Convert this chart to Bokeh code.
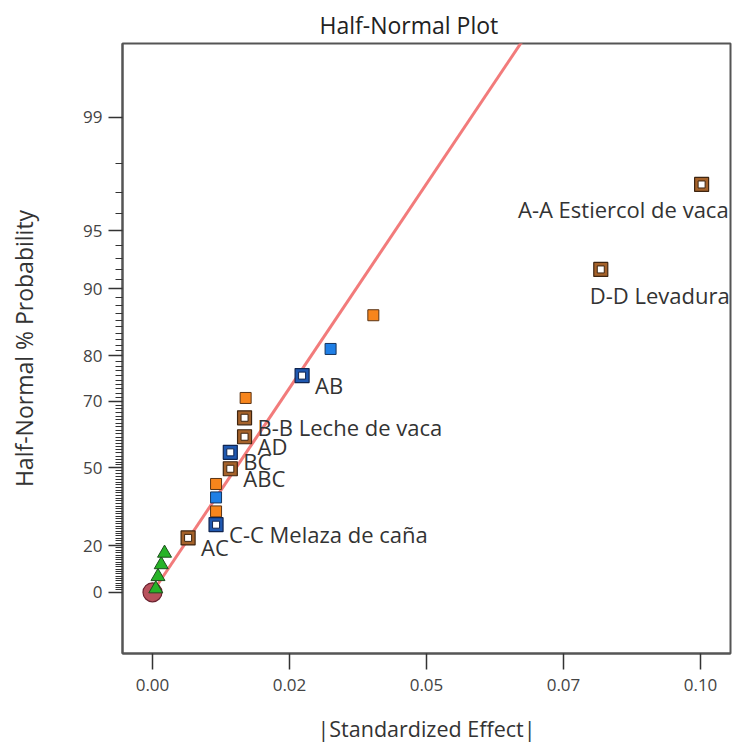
from statistics import NormalDist

from bokeh.core.properties import value
from bokeh.embed import file_html
from bokeh.models import ColumnDataSource, FixedTicker, Range1d
from bokeh.plotting import figure
from bokeh.resources import INLINE

# |Standardized effect| of every term, smallest first
effects = [0.0000, 0.0006, 0.0010, 0.0016, 0.0022,
           0.0065, 0.0116, 0.0116, 0.0116, 0.0116,
           0.0142, 0.0142, 0.0168, 0.0168, 0.0170,
           0.0273, 0.0325, 0.0403, 0.0818, 0.1002]
# half-normal probability (%) of each term
probs = [0.0, 1.5, 6.8, 11.9, 16.8,
         23.2, 28.6, 33.9, 39.3, 44.3,
         49.7, 55.2, 60.1, 65.6, 70.8,
         76.0, 81.3, 86.7, 92.0, 97.3]
# marker class: origin point, error estimate, positive or negative effect
kinds = ["origin", "error", "error", "error", "error",
         "pos", "neg", "pos", "neg", "pos",
         "pos", "neg", "pos", "pos", "pos",
         "neg", "neg", "pos", "pos", "pos"]
# terms chosen for the model
chosen = [False, False, False, False, False,
          True, True, False, False, False,
          True, True, True, True, False,
          True, False, False, True, True]
labels = ["", "", "", "", "",
          "AC", "C-C Melaza de caña", "", "", "",
          "ABC", "BC", "AD", "B-B Leche de vaca", "",
          "AB", "", "", "D-D Levadura", "A-A Estiercol de vaca"]

prob_ticks = [0, 20, 50, 70, 80, 90, 95, 99]
effect_ticks = [0.0, 0.025, 0.05, 0.075, 0.1]
effect_tick_labels = ["0.00", "0.02", "0.05", "0.07", "0.10"]

# reference line through the origin (half-normal z per unit |effect|)
fit_slope = 44.3
fit_effects = [0.0, 0.07]

ND = NormalDist()


def hn(pct):
    """Half-normal quantile used as the probability scale."""
    return ND.inv_cdf(0.5 + pct / 200.0)


z = [hn(v) for v in probs]

FONT = "Open Sans"
FRAME = "#555555"

p = figure(
    frame_width=608, frame_height=610,
    min_border_left=122, min_border_right=5,
    min_border_top=43, min_border_bottom=91,
    x_range=Range1d(-0.00547, 0.10547),
    y_range=Range1d(-0.332, 2.976),
    output_backend="svg", toolbar_location=None,
    title="Half-Normal Plot",
)
p.background_fill_color = "white"
p.border_fill_color = "white"
p.xgrid.visible = False
p.ygrid.visible = False
p.outline_line_color = FRAME
p.outline_line_width = 2

p.title.text_font = FONT
p.title.text_font_size = "23px"
p.title.text_font_style = "normal"
p.title.text_color = "#222222"
p.title.align = "left"
p.title.offset = 197
p.title.standoff = 5

# x axis
p.xaxis.ticker = FixedTicker(ticks=effect_ticks, minor_ticks=[])
p.xaxis.major_label_overrides = dict(zip(effect_ticks, effect_tick_labels))
p.xaxis.axis_label = "|Standardized Effect|"
p.xaxis.major_tick_out = 16
p.xaxis.major_tick_in = 0
p.xaxis.major_label_standoff = 9
p.xaxis.axis_label_standoff = 20

# y axis on the half-normal probability scale
p.yaxis.ticker = FixedTicker(
    ticks=[hn(v) for v in prob_ticks],
    minor_ticks=[hn(v) for v in range(1, 99) if v not in prob_ticks],
)
p.yaxis.major_label_overrides = {hn(v): str(v) for v in prob_ticks}
p.yaxis.axis_label = "Half-Normal % Probability"
p.yaxis.major_tick_out = 14
p.yaxis.major_tick_in = 0
p.yaxis.minor_tick_out = 7
p.yaxis.minor_tick_in = 0
p.yaxis.major_label_standoff = 6
p.yaxis.axis_label_standoff = 40

for ax in (p.xaxis, p.yaxis):
    ax.axis_line_color = FRAME
    ax.axis_line_width = 2
    ax.major_tick_line_color = "#333333"
    ax.minor_tick_line_color = "#333333"
    ax.major_tick_line_width = 1.5
    ax.major_label_text_font = FONT
    ax.major_label_text_font_size = "17px"
    ax.major_label_text_color = "#444444"
    ax.axis_label_text_font = FONT
    ax.axis_label_text_font_style = "normal"
    ax.axis_label_text_color = "#333333"
p.xaxis.axis_label_text_font_size = "21.5px"
p.yaxis.axis_label_text_font_size = "23px"

# reference line
p.line(fit_effects, [fit_slope * e for e in fit_effects],
       line_color="#f27b7b", line_width=3)


def pick(cond):
    idx = [i for i in range(len(effects)) if cond(i)]
    return ColumnDataSource(dict(x=[effects[i] for i in idx],
                                 y=[z[i] for i in idx]))


# origin point
p.scatter("x", "y", source=pick(lambda i: kinds[i] == "origin"),
          marker="circle", size=19, fill_color="#b8515c",
          line_color="#6b2330", line_width=1.2)

# error estimates
p.scatter("x", "y", source=pick(lambda i: kinds[i] == "error"),
          marker="triangle", size=14, fill_color="#27b327",
          line_color="#1d4d1d", line_width=1)

# plain effects
p.scatter("x", "y", source=pick(lambda i: kinds[i] == "pos" and not chosen[i]),
          marker="square", size=11, fill_color="#f7851c",
          line_color="#5a3415", line_width=1)
p.scatter("x", "y", source=pick(lambda i: kinds[i] == "neg" and not chosen[i]),
          marker="square", size=11, fill_color="#1f7fe6",
          line_color="#15345e", line_width=1)

# chosen effects: framed squares
for kind, ring, edge in (("pos", "#a5622a", "#3e2510"), ("neg", "#1f58b0", "#0f2450")):
    src = pick(lambda i, k=kind: kinds[i] == k and chosen[i])
    p.scatter("x", "y", source=src, marker="square", size=14,
              fill_color=ring, line_color=edge, line_width=1.2)
    p.scatter("x", "y", source=src, marker="square", size=7,
              fill_color="white", line_color=edge, line_width=1)

# term labels
label_place = {
    "A-A Estiercol de vaca": (27, 25, "right"),
    "D-D Levadura": (-11, 26, "left"),
}
lab_idx = [i for i in range(len(labels)) if labels[i]]
lab_src = ColumnDataSource(dict(
    x=[effects[i] for i in lab_idx],
    y=[z[i] for i in lab_idx],
    text=[labels[i] for i in lab_idx],
    dx=[label_place.get(labels[i], (13, 9, "left"))[0] for i in lab_idx],
    dy=[label_place.get(labels[i], (13, 9, "left"))[1] for i in lab_idx],
    align=[label_place.get(labels[i], (13, 9, "left"))[2] for i in lab_idx],
))
p.text("x", "y", text="text", source=lab_src, x_offset="dx", y_offset="dy",
       text_align="align", text_baseline="middle",
       text_font=value(FONT), text_font_size="22px", text_color="#333333")

open("out.html", "w").write(file_html(p, INLINE))
